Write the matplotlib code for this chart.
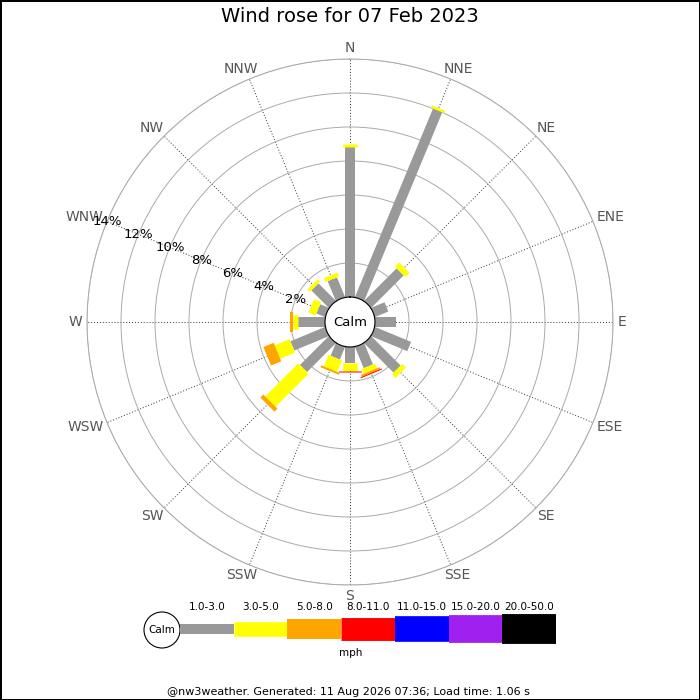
import numpy as np
import matplotlib
matplotlib.use("Agg")
import matplotlib.pyplot as plt
from matplotlib.patches import Circle

# wind rose, 07 Feb 2023 - percent of time per direction and speed band
directions = ["N", "NNE", "NE", "ENE", "E", "ESE", "SE", "SSE",
              "S", "SSW", "SW", "WSW", "W", "WNW", "NW", "NNW"]
speed_bands = ["1.0-3.0", "3.0-5.0", "5.0-8.0", "8.0-11.0",
               "11.0-15.0", "15.0-20.0", "20.0-50.0"]
band_colors = ["#999999", "#ffff00", "#ffa500", "#ff0000",
               "#0000ff", "#a020f0", "#000000"]

pct_1_3 = [8.8, 12.0, 2.7, 0.85, 1.25, 2.3, 2.45, 1.35,
           0.95, 0.8, 2.4, 2.2, 1.57, 0.55, 1.45, 1.25]
pct_3_5 = [0.2, 0.15, 0.35, 0, 0, 0, 0.3, 0.3,
           0.45, 0.73, 2.75, 0.95, 0.33, 0.45, 0.2, 0.25]
pct_5_8 = [0, 0, 0, 0, 0, 0, 0, 0.12,
           0, 0.12, 0.25, 0.65, 0.15, 0, 0, 0]
pct_8_11 = [0, 0, 0, 0, 0, 0, 0, 0.06,
            0.08, 0, 0, 0, 0, 0, 0, 0]
pct_11_15 = [0] * 16
pct_15_20 = [0] * 16
pct_20_50 = [0] * 16

rings = [2, 4, 6, 8, 10, 12, 14]

bands = [pct_1_3, pct_3_5, pct_5_8, pct_8_11, pct_11_15, pct_15_20, pct_20_50]
# bar thickness per band, in points (grows with speed)
widths = [7.2, 10.5, 14.4, 16.5, 18.5, 20.0, 21.5]

fig = plt.figure(figsize=(7, 7), dpi=100)
fig.patch.set_edgecolor("black")
fig.patch.set_linewidth(2)

ax = fig.add_axes([87 / 700, 115 / 700, 526 / 700, 526 / 700], projection="polar")
ax.set_theta_zero_location("N")
ax.set_theta_direction(-1)
ax.set_rlim(0, 14)
ax.set_rorigin(-25 / 17)
ax.set_axisbelow(True)

theta = np.deg2rad(np.arange(16) * 22.5)
ax.set_xticks(theta)
ax.set_xticklabels([])
ax.tick_params(axis="x", length=0)
ax.set_yticks(rings)
ax.set_yticklabels([])
ax.yaxis.grid(True, color="#aaaaaa", linewidth=0.7, linestyle="-")
ax.xaxis.grid(True, color="#333333", linewidth=0.7, linestyle=(0, (1, 2)))
ax.spines["polar"].set_color("#aaaaaa")
ax.spines["polar"].set_linewidth(0.7)

# stacked bars drawn as thick radial lines
for i, th in enumerate(theta):
    bottom = 0
    for k, vals in enumerate(bands):
        v = vals[i]
        if v > 0:
            ax.plot([th, th], [bottom, bottom + v], color=band_colors[k],
                    linewidth=widths[k], solid_capstyle="butt", zorder=3 + k)
            bottom += v

# calm circle
circ = np.linspace(0, 2 * np.pi, 200)
ax.plot(circ, np.zeros_like(circ), color="black", linewidth=0.8, zorder=10)
ax.text(0.5, 0.5, "Calm", transform=ax.transAxes, ha="center", va="center",
        fontsize=9.5, zorder=11)

# percent labels along WNW
for r in rings:
    ax.text(np.deg2rad(292.5), r, f"{r}%", ha="center", va="center",
            fontsize=9.5, color="black", zorder=12)

# compass labels just outside the outer ring, pushed out by half their size
dir_labels = []
for d, th in zip(directions, theta):
    a = ax.annotate(d, xy=(th, 14.3), xytext=(0, 0), textcoords="offset pixels",
                    ha="center", va="center", fontsize=10, color="#555555",
                    annotation_clip=False)
    dir_labels.append(a)
renderer = fig.canvas.get_renderer()
for a, th in zip(dir_labels, theta):
    bb = a.get_window_extent(renderer)
    a.xyann = (np.sin(th) * bb.width / 2, np.cos(th) * (bb.height - 2) / 2)

fig.text(0.5, 1 - 17 / 700, "Wind rose for 07 Feb 2023", ha="center", va="center",
         fontsize=14)

# legend strip along the bottom
lg = fig.add_axes([0, 0, 1, 1], zorder=-1)
lg.set_xlim(0, 700)
lg.set_ylim(700, 0)
lg.axis("off")
lg.add_patch(Circle((162, 630), 18, facecolor="white", edgecolor="black", linewidth=0.8))
lg.text(162, 630, "Calm", ha="center", va="center", fontsize=7.5)
seg = 53.7
for k, lab in enumerate(speed_bands):
    x0 = 180 + k * seg
    lg.plot([x0, x0 + seg], [629, 629], color=band_colors[k], linewidth=widths[k],
            solid_capstyle="butt")
    lg.text(x0 + seg / 2, 607, lab, ha="center", va="center", fontsize=7.5)
lg.text(351, 653, "mph", ha="center", va="center", fontsize=7.5)
lg.text(348, 692, "@nw3weather. Generated: 11 Aug 2026 07:36; Load time: 1.06 s",
        ha="center", va="center", fontsize=8)

fig.savefig("out.png", dpi=100)
